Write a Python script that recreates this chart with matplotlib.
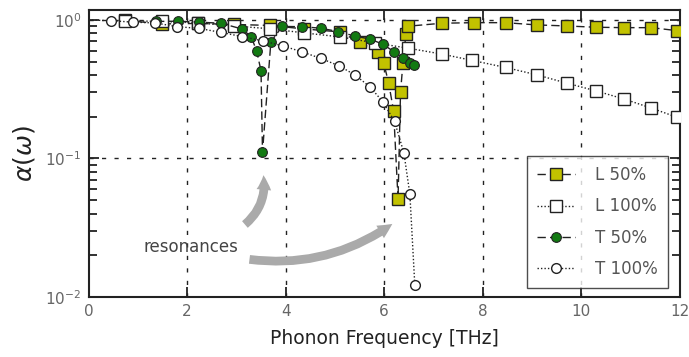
import matplotlib
matplotlib.use("Agg")
import matplotlib.pyplot as plt
from matplotlib.patches import FancyArrowPatch
from matplotlib.ticker import LogLocator, FixedLocator

plt.rcParams['font.family'] = ['DejaVu Sans']
plt.rcParams['mathtext.fontset'] = 'dejavusans'
plt.rcParams['axes.unicode_minus'] = False

# ---- data ----
l50_x = [0.75, 1.49, 2.23, 2.95, 3.68, 4.38, 5.10, 5.50, 5.87, 5.99, 6.09, 6.19, 6.28,
         6.33, 6.38, 6.44, 6.48, 7.17, 7.82, 8.46, 9.09, 9.70, 10.29, 10.86, 11.42, 11.93]
l50_y = [0.992, 0.936, 0.944, 0.928, 0.913, 0.861, 0.820, 0.691, 0.586, 0.488, 0.350, 0.220, 0.0507,
         0.300, 0.493, 0.793, 0.901, 0.947, 0.956, 0.956, 0.921, 0.905, 0.886, 0.880, 0.880, 0.838]

l100_x = [0.75, 1.49, 2.23, 2.95, 3.68, 4.38, 5.10, 5.81, 6.48, 7.17, 7.79, 8.46, 9.09,
          9.70, 10.29, 10.86, 11.42, 11.93]
l100_y = [0.988, 0.975, 0.952, 0.905, 0.864, 0.806, 0.755, 0.683, 0.626, 0.567, 0.510, 0.454,
          0.402, 0.350, 0.308, 0.269, 0.231, 0.199]

t50_x = [1.37, 1.81, 2.25, 2.69, 3.11, 3.30, 3.41, 3.50, 3.53, 3.70, 3.93, 4.33, 4.71, 5.07,
         5.40, 5.71, 5.97, 6.20, 6.39, 6.53, 6.61]
t50_y = [0.975, 0.980, 0.964, 0.947, 0.861, 0.759, 0.598, 0.430, 0.111, 0.695, 0.898, 0.894,
         0.872, 0.824, 0.765, 0.728, 0.669, 0.589, 0.530, 0.493, 0.471]

t100_x = [0.0, 0.46, 0.90, 1.35, 1.79, 2.24, 2.69, 3.11, 3.54, 3.94, 4.33, 4.71, 5.08, 5.40,
          5.71, 5.97, 6.21, 6.40, 6.52, 6.62]
t100_y = [1.0, 0.988, 0.964, 0.952, 0.895, 0.869, 0.813, 0.759, 0.706, 0.650, 0.589, 0.528,
          0.467, 0.402, 0.329, 0.257, 0.185, 0.109, 0.0551, 0.0122]

x_ticks = [0, 2, 4, 6, 8, 10, 12]
labels = ['L 50%', 'L 100%', 'T 50%', 'T 100%']
annot_text = 'resonances'

yellow = '#c2c200'
green = '#127a12'

fig = plt.figure(figsize=(6.89, 3.57), dpi=100)
ax = fig.add_axes([88.5 / 689, 1 - 297 / 357, (680 - 88.5) / 689, 287 / 357])
ax.set_yscale('log')
ax.set_xlim(0, 12)
ax.set_ylim(0.01, 1.18)

ax.plot(l50_x, l50_y, linestyle=(0, (6, 3)), color='#222222', lw=1.0, marker='s', ms=8,
        mfc=yellow, mec='#222222', mew=1.0, label=labels[0], zorder=3)
ax.plot(l100_x, l100_y, linestyle=(0, (1, 1.5)), color='#222222', lw=1.0, marker='s', ms=8,
        mfc='white', mec='#222222', mew=1.0, label=labels[1], zorder=4)
ax.plot(t50_x, t50_y, linestyle=(0, (6, 3)), color='#222222', lw=1.0, marker='o', ms=7,
        mfc=green, mec='#222222', mew=0.8, label=labels[2], zorder=5)
ax.plot(t100_x, t100_y, linestyle=(0, (1, 1.5)), color='#222222', lw=1.0, marker='o', ms=7,
        mfc='white', mec='#222222', mew=1.0, label=labels[3], zorder=6,
        markevery=slice(1, None))

# grid
for gx in x_ticks[1:-1]:
    ax.axvline(gx, color='#222222', lw=1.0, linestyle=(0, (3, 6)), zorder=1)
for gy in [0.1, 1.0]:
    ax.axhline(gy, color='#222222', lw=1.0, linestyle=(0, (3, 6)), zorder=1)

ax.xaxis.set_major_locator(FixedLocator(x_ticks))
ax.yaxis.set_major_locator(LogLocator(base=10, numticks=10))
ax.yaxis.set_minor_locator(LogLocator(base=10, subs=[2, 3, 4, 5, 6, 7, 8, 9], numticks=10))
ax.tick_params(which='both', direction='in', top=True, right=True, colors='#222222',
               labelcolor='#666666', labelsize=11, width=1.3)
ax.tick_params(which='major', length=7, pad=5)
ax.tick_params(which='minor', length=6)
ax.tick_params(axis='x', which='minor', length=0)
for sp in ax.spines.values():
    sp.set_linewidth(1.5)
    sp.set_color('#222222')

ax.set_xlabel('Phonon Frequency [THz]', fontsize=13.5, color='#222222', labelpad=7)
ax.set_ylabel(r'$\alpha(\omega)$', fontsize=18, color='#222222')
ax.yaxis.set_label_coords(-0.087, 0.5)

leg = ax.legend(loc='lower right', bbox_to_anchor=(0.98, 0.031), borderaxespad=0,
                fontsize=12, frameon=True,
                fancybox=False, edgecolor='#222222', handlelength=2.3, labelspacing=0.8,
                borderpad=0.6, handletextpad=1.2, labelcolor='#555555')
leg.get_frame().set_linewidth(1.0)
leg.set_zorder(10)

# annotations
ax.text(2.08, 0.0229, annot_text, fontsize=12, color='#444444', ha='center', va='center')
arr_kw = dict(arrowstyle='simple,head_width=0.75,head_length=0.75,tail_width=0.45',
              color='#aaaaaa', lw=0, zorder=2, mutation_scale=14)
a1 = FancyArrowPatch((3.13, 0.0324), (3.54, 0.0793), connectionstyle='arc3,rad=0.3', **arr_kw)
a2 = FancyArrowPatch((3.21, 0.0188), (6.21, 0.0346), connectionstyle='arc3,rad=0.2', **arr_kw)
ax.add_patch(a1)
ax.add_patch(a2)

fig.savefig('out.png', dpi=100)
